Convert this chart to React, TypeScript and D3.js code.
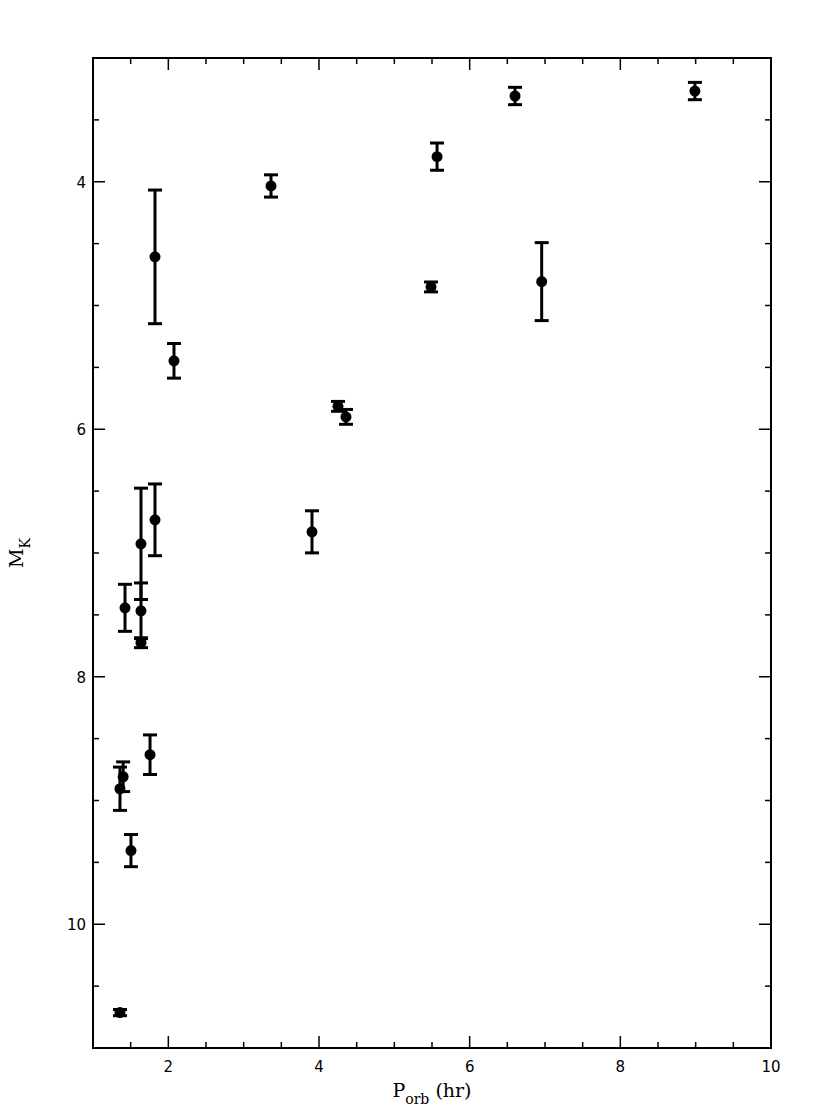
import React from "react";
import * as d3 from "d3";

const periods = [1.358, 1.358, 1.40, 1.425, 1.504, 1.637, 1.637, 1.637, 1.757, 1.823, 1.823, 2.075, 3.363, 3.907, 4.252, 4.358, 5.487, 5.567, 6.956, 6.602, 8.99];
const absMagK = [10.714, 8.905, 8.808, 7.443, 9.405, 6.926, 7.467, 7.725, 8.630, 6.732, 4.607, 5.447, 4.034, 6.829, 5.815, 5.900, 4.850, 3.797, 4.807, 3.307, 3.267];
const magErr = [0.025, 0.175, 0.12, 0.19, 0.13, 0.45, 0.225, 0.04, 0.16, 0.29, 0.54, 0.14, 0.09, 0.17, 0.04, 0.06, 0.04, 0.11, 0.315, 0.07, 0.07];

const xMajorTicks = [2, 4, 6, 8, 10];
const yMajorTicks = [4, 6, 8, 10];

const W = 830, H = 1107;
const L = 93, R = 771, T = 58, B = 1048;

export default function App() {
  const x = d3.scaleLinear().domain([1, 10]).range([L, R]);
  const y = d3.scaleLinear().domain([3, 11]).range([T, B]);
  const xMinor = d3.range(1.5, 10, 0.5).filter((v) => !xMajorTicks.includes(v));
  const yMinor = d3.range(3.5, 11, 0.5).filter((v) => !yMajorTicks.includes(v));
  const major = 12, minor = 6;
  const capW = 7;
  return (
    <svg width={W} height={H} style={{ position: "absolute", left: 0, top: 0, background: "#fff" }}>
      <g stroke="#000" strokeWidth={1.5}>
        {xMajorTicks.map((v) => (
          <g key={"xm" + v}>
            <line x1={x(v)} x2={x(v)} y1={B} y2={B - major} />
            <line x1={x(v)} x2={x(v)} y1={T} y2={T + major} />
          </g>
        ))}
        {xMinor.map((v) => (
          <g key={"xn" + v}>
            <line x1={x(v)} x2={x(v)} y1={B} y2={B - minor} />
            <line x1={x(v)} x2={x(v)} y1={T} y2={T + minor} />
          </g>
        ))}
        {yMajorTicks.map((v) => (
          <g key={"ym" + v}>
            <line x1={L} x2={L + major} y1={y(v)} y2={y(v)} />
            <line x1={R} x2={R - major} y1={y(v)} y2={y(v)} />
          </g>
        ))}
        {yMinor.map((v) => (
          <g key={"yn" + v}>
            <line x1={L} x2={L + minor} y1={y(v)} y2={y(v)} />
            <line x1={R} x2={R - minor} y1={y(v)} y2={y(v)} />
          </g>
        ))}
      </g>
      <g fontFamily="DejaVu Sans" fontSize={15} fill="#000">
        {xMajorTicks.map((v) => (
          <text key={"xl" + v} x={x(v)} y={B + 24} textAnchor="middle">{v}</text>
        ))}
        {yMajorTicks.map((v) => (
          <text key={"yl" + v} x={L - 7} y={y(v) + 6} textAnchor="end">{v}</text>
        ))}
      </g>
      <g stroke="#000" strokeWidth={3}>
        {periods.map((p, i) => {
          const cx = x(p);
          const y0 = y(absMagK[i] - magErr[i]);
          const y1 = y(absMagK[i] + magErr[i]);
          return (
            <g key={"e" + i}>
              <line x1={cx} x2={cx} y1={y0} y2={y1} />
              <line x1={cx - capW} x2={cx + capW} y1={y0} y2={y0} />
              <line x1={cx - capW} x2={cx + capW} y1={y1} y2={y1} />
            </g>
          );
        })}
      </g>
      <g fill="#000">
        {periods.map((p, i) => (
          <circle key={"c" + i} cx={x(p)} cy={y(absMagK[i])} r={5.5} />
        ))}
      </g>
      <rect x={L} y={T} width={R - L} height={B - T} fill="none" stroke="#000" strokeWidth={2} />
      <text x={(L + R) / 2} y={1097} textAnchor="middle" fontFamily="DejaVu Serif" fontSize={19} fill="#000">
        P<tspan fontSize={14} dy={7}>orb</tspan><tspan dy={-7}> (hr)</tspan>
      </text>
      <text transform={`translate(23,${(T + B) / 2}) rotate(-90)`} textAnchor="middle" fontFamily="DejaVu Serif" fontSize={19} fill="#000">
        M<tspan fontSize={14} dy={7}>K</tspan>
      </text>
    </svg>
  );
}
